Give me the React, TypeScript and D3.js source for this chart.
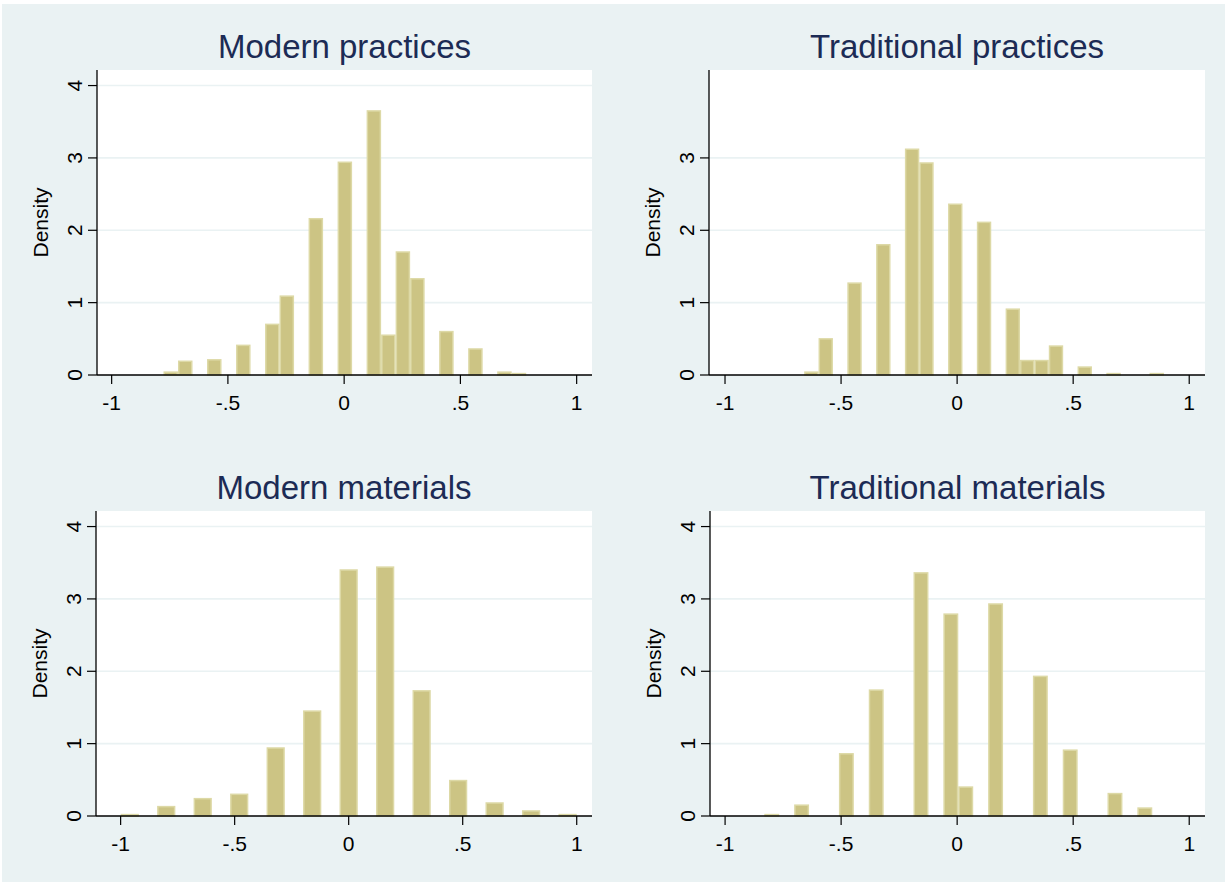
import * as d3 from 'd3'

const W = 1225
const H = 882

const TITLES = ['Modern practices', 'Traditional practices', 'Modern materials', 'Traditional materials']

// histogram densities per bin (0 = empty bin)
const modernPractices = [
  0.05, 0.2, 0, 0.22, 0, 0.42, 0, 0.71, 1.1, 0, 2.17, 0, 2.95, 0, 3.66, 0.56, 1.71, 1.34, 0, 0.61, 0, 0.37, 0,
  0.05, 0.03,
]
const traditionalPractices = [
  0.05, 0.51, 0, 1.28, 0, 1.81, 0, 3.13, 2.94, 0, 2.37, 0, 2.12, 0, 0.92, 0.21, 0.21, 0.41, 0, 0.12, 0, 0.03, 0,
  0, 0.03,
]
const modernMaterials = [
  0.03, 0, 0.14, 0, 0.25, 0, 0.31, 0, 0.95, 0, 1.46, 0, 3.41, 0, 3.45, 0, 1.74, 0, 0.5, 0, 0.19, 0, 0.08, 0, 0.03,
]
const traditionalMaterials = [
  0.03, 0, 0.16, 0, 0, 0.87, 0, 1.75, 0, 0, 3.37, 0, 2.8, 0.41, 0, 2.94, 0, 0, 1.94, 0, 0.92, 0, 0, 0.32, 0, 0.12,
]
const DENSITIES = [modernPractices, traditionalPractices, modernMaterials, traditionalMaterials]
const BIN_START = [-0.777, -0.659, -1.0, -0.831]
const BIN_WIDTH = [0.0624, 0.062, 0.08, 0.0643]

const X_TICKS = [-1, -0.5, 0, 0.5, 1]
const X_TICK_LABELS = ['-1', '-.5', '0', '.5', '1']
const Y_TICKS = [
  [0, 1, 2, 3, 4],
  [0, 1, 2, 3],
  [0, 1, 2, 3, 4],
  [0, 1, 2, 3, 4],
]

// plot regions in pixels, and x domain at the plot edges
const PANELS = [
  { left: 97, right: 592, top: 70, bottom: 375, xMin: -1.063, xMax: 1.066 },
  { left: 709, right: 1205, top: 70, bottom: 375, xMin: -1.069, xMax: 1.068 },
  { left: 96, right: 592, top: 511, bottom: 816, xMin: -1.108, xMax: 1.067 },
  { left: 710, right: 1205, top: 511, bottom: 816, xMin: -1.065, xMax: 1.068 },
]
const Y_MAX = 4.215

const BG = '#eaf2f3'
const BAR_FILL = '#ccc484'
const BAR_LINE = '#ddd9a6'
const TITLE_COLOR = '#1c2b55'
const FONT = "'Liberation Sans', Arial, Helvetica, sans-serif"

function Panel({ index }: { index: number }) {
  const p = PANELS[index]
  const x = d3.scaleLinear().domain([p.xMin, p.xMax]).range([p.left, p.right])
  const y = d3.scaleLinear().domain([0, Y_MAX]).range([p.bottom, p.top])
  const start = BIN_START[index]
  const w = BIN_WIDTH[index]
  const bars = DENSITIES[index]
    .map((d, k) => ({ x0: start + k * w, x1: start + (k + 1) * w, d }))
    .filter((b) => b.d > 0)
  const yTicks = Y_TICKS[index]
  const midY = (p.top + p.bottom) / 2

  return (
    <g>
      <rect x={p.left} y={p.top} width={p.right - p.left} height={p.bottom - p.top} fill="#fff" />
      {yTicks
        .filter((t) => t > 0)
        .map((t) => (
          <line key={t} x1={p.left} x2={p.right} y1={y(t)} y2={y(t)} stroke={BG} strokeWidth={1.6} />
        ))}
      {bars.map((b, i) => (
        <rect
          key={i}
          x={x(b.x0) + 0.75}
          y={y(b.d) + 0.75}
          width={x(b.x1) - x(b.x0) - 1.5}
          height={Math.max(0, y(0) - y(b.d) - 0.75)}
          fill={BAR_FILL}
          stroke={BAR_LINE}
          strokeWidth={1.5}
        />
      ))}
      <line x1={p.left} x2={p.left} y1={p.top} y2={p.bottom} stroke="#000" strokeWidth={1.3} />
      <line x1={p.left} x2={p.right} y1={p.bottom} y2={p.bottom} stroke="#000" strokeWidth={1.3} />
      {yTicks.map((t) => (
        <g key={t}>
          <line x1={p.left - 9} x2={p.left} y1={y(t)} y2={y(t)} stroke="#000" strokeWidth={1.2} />
          <text
            transform={`translate(${p.left - 15},${y(t)}) rotate(-90)`}
            textAnchor="middle"
            fontSize={21}
            fontFamily={FONT}
            fill="#000"
          >
            {t}
          </text>
        </g>
      ))}
      {X_TICKS.map((t, i) => (
        <g key={t}>
          <line x1={x(t)} x2={x(t)} y1={p.bottom} y2={p.bottom + 9} stroke="#000" strokeWidth={1.2} />
          <text x={x(t)} y={p.bottom + 35} textAnchor="middle" fontSize={21} fontFamily={FONT} fill="#000">
            {X_TICK_LABELS[i]}
          </text>
        </g>
      ))}
      <text
        transform={`translate(${p.left - 49},${midY}) rotate(-90)`}
        textAnchor="middle"
        fontSize={21}
        fontFamily={FONT}
        fill="#000"
      >
        Density
      </text>
      <text
        x={(p.left + p.right) / 2}
        y={p.top - 12.5}
        textAnchor="middle"
        fontSize={33}
        fontFamily={FONT}
        fill={TITLE_COLOR}
      >
        {TITLES[index]}
      </text>
    </g>
  )
}

export default function App() {
  return (
    <svg
      width={W}
      height={H}
      viewBox={`0 0 ${W} ${H}`}
      style={{ position: 'absolute', left: 0, top: 0, display: 'block' }}
    >
      <rect x={0} y={0} width={W} height={H} fill="#fff" />
      <rect x={2} y={4} width={W - 2} height={H - 4} fill={BG} />
      {PANELS.map((_, i) => (
        <Panel key={i} index={i} />
      ))}
    </svg>
  )
}
